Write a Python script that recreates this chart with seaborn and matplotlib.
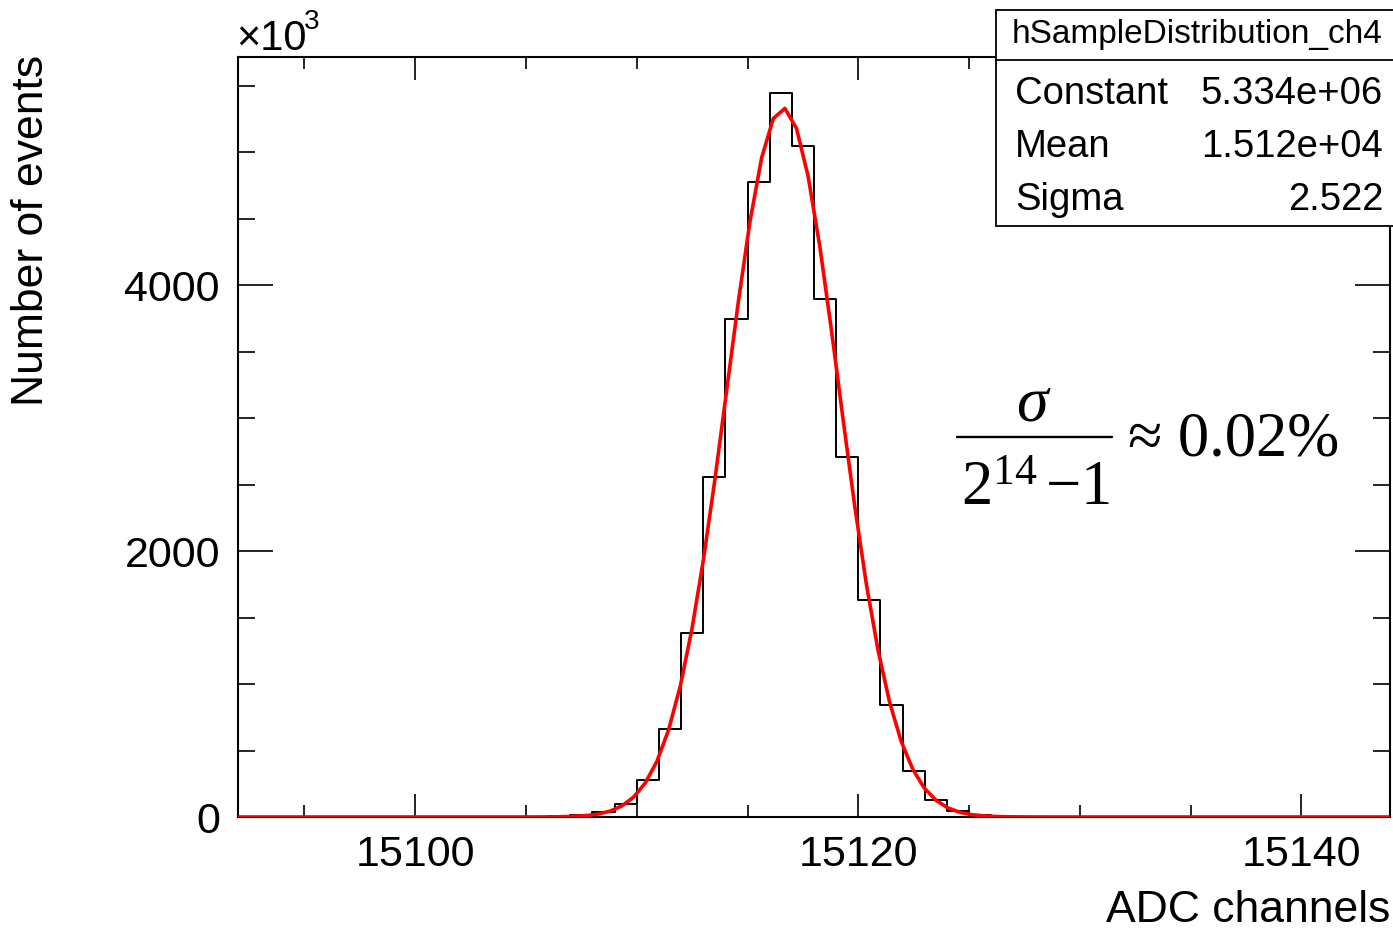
import numpy as np
import pandas as pd
import matplotlib
matplotlib.use("Agg")
import matplotlib.pyplot as plt
from matplotlib.patches import Rectangle
from matplotlib.lines import Line2D
from matplotlib.ticker import MultipleLocator
import seaborn as sns

# left edge of each 1-channel bin and its content (units of 10^3 events)
adc_channel = [15106, 15107, 15108, 15109, 15110, 15111, 15112, 15113, 15114, 15115, 15116,
               15117, 15118, 15119, 15120, 15121, 15122, 15123, 15124, 15125, 15126]
events_k = [5, 15, 40, 100, 280, 660, 1385, 2555, 3745, 4780, 5445,
            5050, 3895, 2705, 1630, 840, 345, 130, 45, 12, 3]

# gaus fit result shown in the stats box (constant in 10^3 events)
fit_constant = 5334.0
fit_mean = 15116.6
fit_sigma = 2.522

stat_names = ["Constant", "Mean", "Sigma"]
stat_values = ["5.334e+06", "1.512e+04", "2.522"]

x_lo, x_hi = 15092, 15144

sns.set_style("ticks")
plt.rcParams['font.family'] = ['Liberation Sans', 'DejaVu Sans']
plt.rcParams['text.color'] = 'black'
plt.rcParams['mathtext.fontset'] = 'custom'
plt.rcParams['mathtext.rm'] = 'Liberation Serif'
plt.rcParams['mathtext.it'] = 'Liberation Serif:italic'

W, H = 1393, 930
fig = plt.figure(figsize=(W / 100, H / 100), dpi=100)
ax = fig.add_axes([238 / W, 1 - 817 / H, (1390 - 238) / W, (817 - 57) / H])


def px(x, y):
    # pixel position in the image -> figure fraction
    return x / W, 1 - y / H


df = pd.DataFrame({"adc": np.array(adc_channel) + 0.5, "n": events_k})
sns.histplot(data=df, x="adc", weights="n", binwidth=1, binrange=(x_lo, x_hi),
             element="step", fill=False, color="black", linewidth=1.4, ax=ax)

fit_x = np.linspace(x_lo, x_hi, 100)
fit_y = fit_constant * np.exp(-0.5 * ((fit_x - fit_mean) / fit_sigma) ** 2)
sns.lineplot(x=fit_x, y=fit_y, color="red", linewidth=2.6, ax=ax, zorder=3)

ax.set_xlim(x_lo, x_hi)
ax.set_ylim(0, 1.05 * max(events_k))
ax.set_xlabel("")
ax.set_ylabel("")
ax.set_xticks([15100, 15120, 15140])
ax.set_yticks([0, 2000, 4000])
ax.xaxis.set_minor_locator(MultipleLocator(5))
ax.yaxis.set_minor_locator(MultipleLocator(500))
ax.tick_params(which="both", direction="in", top=True, right=True, width=1.2,
               labelsize=31, colors="black")
ax.tick_params(axis="x", which="major", length=16.5, pad=13)
ax.tick_params(axis="x", which="minor", length=8.3)
ax.tick_params(axis="y", which="major", length=25, pad=13)
ax.tick_params(axis="y", which="minor", length=12.5)
for s in ax.spines.values():
    s.set_linewidth(1.5)
    s.set_color("black")
    s.set_zorder(2.5)

# axis titles, ROOT style at the axis ends
fig.text(*px(32, 55), "Number of events", rotation=90, ha="center", va="top", fontsize=32)
fig.text(*px(1390, 922), "ADC channels", ha="right", va="baseline", fontsize=32)
fig.text(*px(236, 50), "\u00d710", ha="left", va="baseline", fontsize=30)
fig.text(*px(304, 29), "3", ha="left", va="baseline", fontsize=20)

# stats box
x0, y0 = px(996, 226)
x1, y1 = px(1400, 10)
fig.add_artist(Rectangle((x0, y0), x1 - x0, y1 - y0, transform=fig.transFigure,
                         facecolor="white", edgecolor="black", linewidth=1.3, zorder=5))
fig.add_artist(Line2D([x0, x1], [px(0, 60)[1]] * 2, transform=fig.transFigure,
                      color="black", linewidth=1.3, zorder=6))
fig.text(*px(1197, 34), "hSampleDistribution_ch4", ha="center", va="center",
         fontsize=24, zorder=7)
for i, (name, val) in enumerate(zip(stat_names, stat_values)):
    yb = 104 + i * 53
    fig.text(*px(1015, yb), name, ha="left", va="baseline", fontsize=27.5, zorder=7)
    fig.text(*px(1383, yb), val, ha="right", va="baseline", fontsize=27.5, zorder=7)

# resolution formula
fig.text(*px(1034, 420), r"$\sigma$", ha="center", va="baseline", fontsize=46,
         math_fontfamily="custom")
fig.add_artist(Line2D([px(957, 0)[0], px(1112, 0)[0]], [px(0, 437)[1]] * 2,
                      transform=fig.transFigure, color="black", linewidth=1.7))
fig.text(*px(1036, 505), r"$2^{14}\,\mathrm{-}1$".replace("-", "\u2212"), ha="center",
         va="baseline", fontsize=45, math_fontfamily="custom")
fig.text(*px(1128, 455), "\u2248 0.02%", ha="left", va="baseline", fontsize=45,
         family="Liberation Serif")

fig.savefig("out.png", dpi=100)
